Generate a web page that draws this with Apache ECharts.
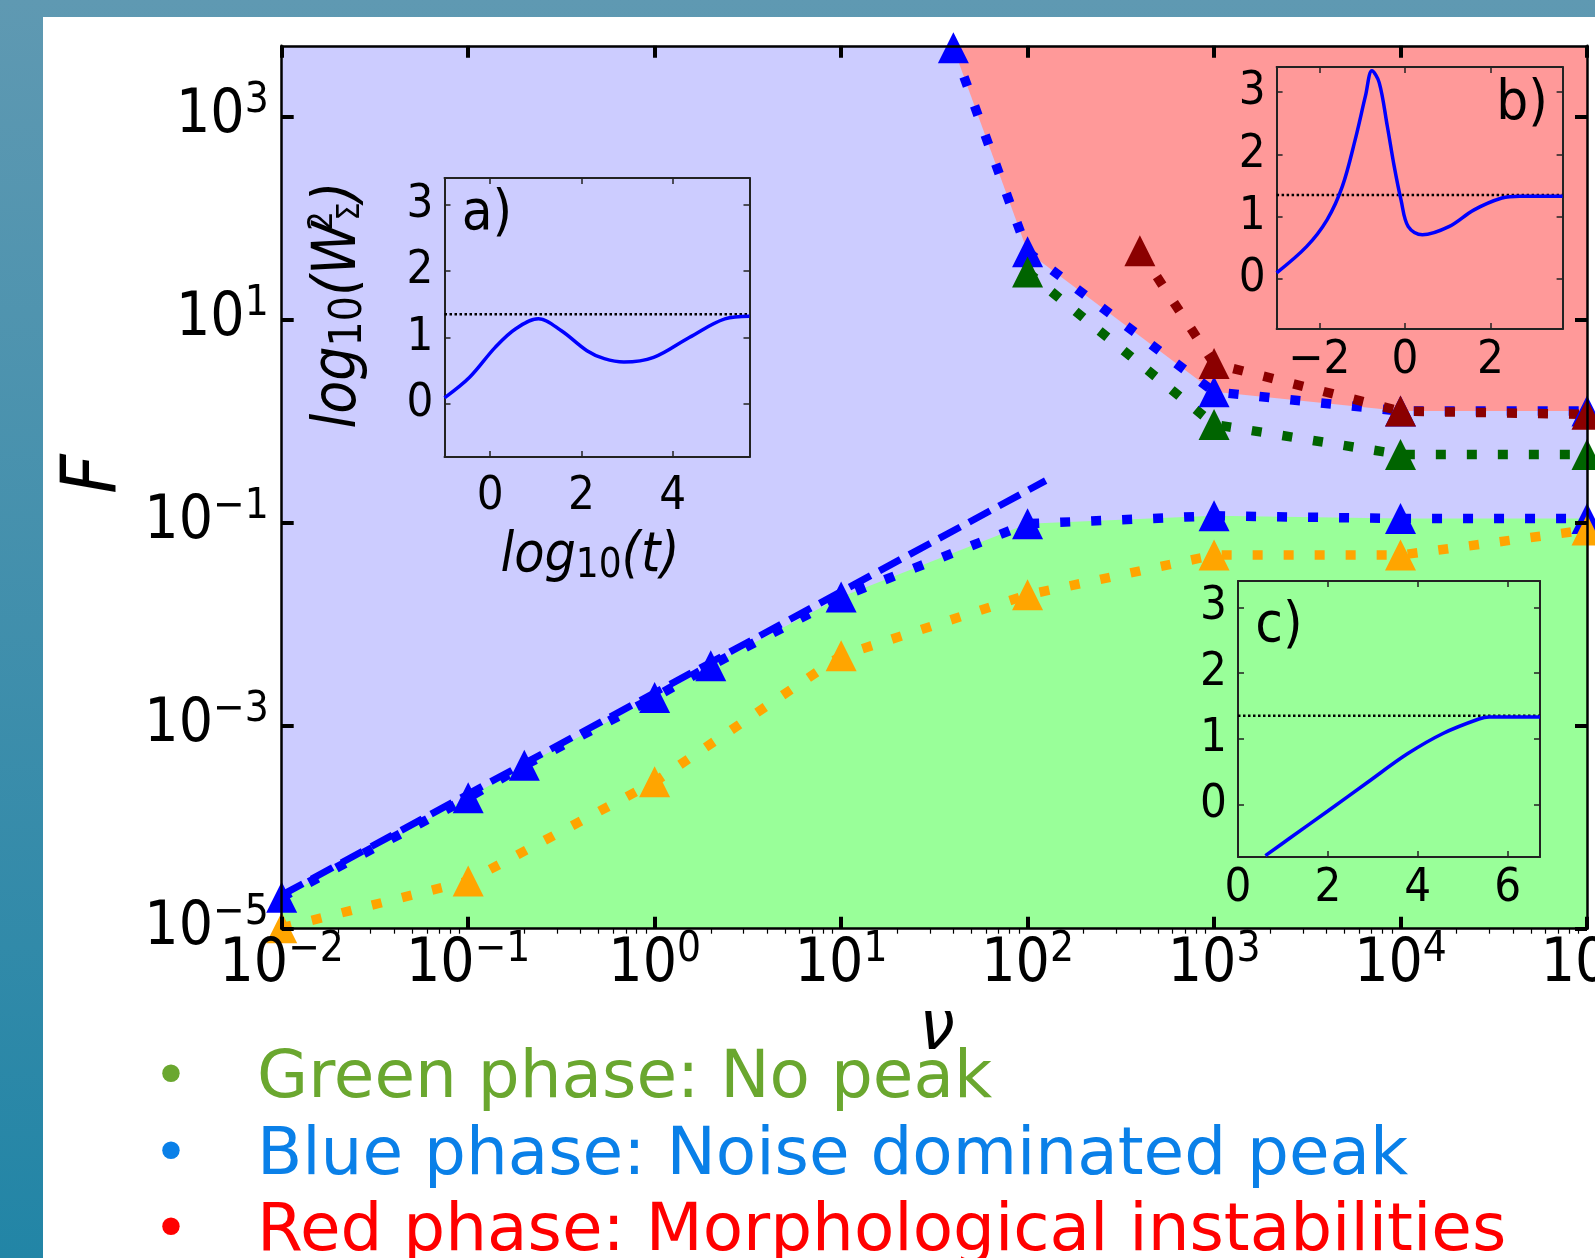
<!DOCTYPE html>
<html><head><meta charset="utf-8">
<script src="https://cdn.jsdelivr.net/npm/echarts@6/dist/echarts.min.js"></script>
<style>
html,body{margin:0;padding:0;width:1595px;height:1258px;overflow:hidden;background:linear-gradient(to bottom,#5f99b2,#2285a6);}
#panel{position:absolute;left:43px;top:17px;right:0;bottom:0;background:#fff;}
#chart{position:absolute;left:0;top:0;width:1595px;height:1258px;}
</style></head><body><div id="panel"></div><div id="chart"></div>
<script>
// ---------- main diagram data (nu, F) ----------
const nuLowerBlue = [0.01, 0.1, 0.2, 1, 2, 10, 100, 1000, 10000, 100000];
const fLowerBlue  = [2.04e-5, 1.95e-4, 4.07e-4, 1.9e-3, 3.9e-3, 1.86e-2, 9.8e-2, 0.117, 0.11, 0.11];
const nuOrange = [0.01, 0.1, 1, 10, 100, 1000, 10000, 100000];
const fOrange  = [1.02e-5, 2.95e-5, 2.8e-4, 4.9e-3, 1.95e-2, 4.8e-2, 4.8e-2, 8.5e-2];
const nuUpperBlue = [40, 100, 1000, 10000, 100000];
const fUpperBlue  = [4800, 46.8, 1.95, 1.26, 1.26];
const nuDarkRed = [400, 1000, 10000, 100000];
const fDarkRed  = [47.9, 3.7, 1.26, 1.17];
const nuDarkGreen = [100, 1000, 10000, 100000];
const fDarkGreen  = [29.5, 0.93, 0.47, 0.47];
const nuFit = [0.01, 125];
const fFit  = [2.14e-5, 0.26];
// tick exponents
const xTickExp = [-2, -1, 0, 1, 2, 3, 4, 5];
const yTickExp = [-5, -3, -1, 1, 3];

// ---------- insets: log10(t) vs log10(W^2) ----------
const insetA = [[-1.0,0.09],[-0.45,0.40],[0.11,0.85],[0.56,1.13],[1.06,1.28],[1.56,1.10],[2.12,0.80],[2.5,0.68],[2.93,0.63],[3.58,0.70],[4.36,1.0],[5.14,1.28],[5.68,1.32]];
const insetB = [[-3.0,0.10],[-2.3,0.52],[-1.82,0.95],[-1.46,1.49],[-1.16,2.24],[-0.92,2.94],[-0.77,3.34],[-0.60,3.15],[-0.41,2.45],[-0.25,1.81],[-0.09,1.27],[0.08,0.84],[0.41,0.71],[1.03,0.84],[1.62,1.11],[2.27,1.30],[2.69,1.33],[3.69,1.33]];
const insetC = [[0.61,-0.78],[1.18,-0.50],[2.0,-0.10],[2.87,0.33],[3.77,0.77],[4.56,1.08],[5.36,1.30],[5.59,1.33],[6.72,1.33]];
const saturationLevel = 1.35;
const insetXTicksA = [0, 2, 4];
const insetXTicksB = [-2, 0, 2];
const insetXTicksC = [0, 2, 4, 6];
const insetYTicks = [0, 1, 2, 3];

const FONT = "'DejaVu Sans Condensed','DejaVu Sans',sans-serif";
const minus = n => (n < 0 ? '\u2212' + Math.abs(n) : String(n));
const toLog = (xs, ys) => xs.map((x, i) => [Math.log10(x), Math.log10(ys[i])]);
const minorTicks = [];
for (let n = -2; n < 5; n++) for (let k = 2; k <= 9; k++) minorTicks.push(n + Math.log10(k));

const powRich = {
  b: {fontSize: 60, fontFamily: FONT, color: '#000'},
  s: {fontSize: 42, fontFamily: FONT, color: '#000', padding: [0, 0, 32, 0]}
};
const powFmt = v => '{b|10}{s|' + minus(Math.round(v)) + '}';

const chart = echarts.init(document.getElementById('chart'), null, {renderer: 'canvas'});

const mainGrid = {left: 281.7, top: 45.8, width: 1305.3, height: 882.9, show: true, backgroundColor: '#ccccff', borderWidth: 0, containLabel: false, outerBoundsMode: 'none'};
const insetGrids = [
  {left: 444.5, top: 178, width: 305, height: 279},
  {left: 1276.6, top: 67, width: 286, height: 262},
  {left: 1238, top: 581, width: 302, height: 276}
].map(g => Object.assign(g, {containLabel: false, outerBoundsMode: 'none'}));

const axLine = {show: true, onZero: false, lineStyle: {color: '#000', width: 2.5}};
const xAxes = [
  {gridIndex: 0, type: 'value', min: -2, max: 5, position: 'bottom', z: 10, axisLine: axLine,
   axisTick: {show: true, inside: true, length: 12, lineStyle: {color: '#000', width: 4}, customValues: xTickExp},
   axisLabel: {show: true, customValues: xTickExp, formatter: powFmt, rich: powRich, margin: 0}, splitLine: {show: false}},
  {gridIndex: 0, type: 'value', min: -2, max: 5, position: 'top', z: 10, axisLine: axLine,
   axisTick: {show: true, inside: true, length: 12, lineStyle: {color: '#000', width: 4}, customValues: xTickExp},
   axisLabel: {show: false}, splitLine: {show: false}},
  {gridIndex: 0, type: 'value', min: -2, max: 5, position: 'bottom', z: 10, axisLine: {show: false, onZero: false},
   axisTick: {show: true, inside: false, length: 5, lineStyle: {color: '#000', width: 1.2}, customValues: minorTicks},
   axisLabel: {show: false}, splitLine: {show: false}}
];
const yAxes = [
  {gridIndex: 0, type: 'value', min: -5, max: 3.7, position: 'left', z: 10, axisLine: axLine,
   axisTick: {show: true, inside: true, length: 12, lineStyle: {color: '#000', width: 4}, customValues: yTickExp},
   axisLabel: {show: true, customValues: yTickExp, formatter: powFmt, rich: powRich, margin: 13}, splitLine: {show: false}},
  {gridIndex: 0, type: 'value', min: -5, max: 3.7, position: 'right', z: 10, axisLine: axLine,
   axisTick: {show: true, inside: true, length: 12, lineStyle: {color: '#000', width: 4}, customValues: yTickExp},
   axisLabel: {show: false}, splitLine: {show: false}}
];

function addInsetAxes(gi, xr, yr, xt, xMargin) {
  const line = {show: true, onZero: false, lineStyle: {color: '#222', width: 2}};
  const tick = vals => ({show: true, inside: true, length: 6, lineStyle: {color: '#222', width: 1.5}, customValues: vals});
  const lab = {fontSize: 47, fontFamily: FONT, color: '#000'};
  xAxes.push({gridIndex: gi, type: 'value', min: xr[0], max: xr[1], position: 'bottom', z: 10, axisLine: line, axisTick: tick(xt),
    axisLabel: Object.assign({show: true, customValues: xt, formatter: minus, margin: xMargin}, lab), splitLine: {show: false}});
  xAxes.push({gridIndex: gi, type: 'value', min: xr[0], max: xr[1], position: 'top', z: 10, axisLine: line, axisTick: tick(xt),
    axisLabel: {show: false}, splitLine: {show: false}});
  yAxes.push({gridIndex: gi, type: 'value', min: yr[0], max: yr[1], position: 'left', z: 10, axisLine: line, axisTick: tick(insetYTicks),
    axisLabel: Object.assign({show: true, customValues: insetYTicks, formatter: minus, margin: 11}, lab), splitLine: {show: false}});
  yAxes.push({gridIndex: gi, type: 'value', min: yr[0], max: yr[1], position: 'right', z: 10, axisLine: line, axisTick: tick(insetYTicks),
    axisLabel: {show: false}, splitLine: {show: false}});
  return {x: xAxes.length - 2, y: yAxes.length - 2};
}
const axA = addInsetAxes(1, [-1.0, 5.68], [-0.8, 3.4], insetXTicksA, 16);
const axB = addInsetAxes(2, [-3.0, 3.69], [-0.8, 3.4], insetXTicksB, 8);
const axC = addInsetAxes(3, [0, 6.72], [-0.8, 3.4], insetXTicksC, 8);

const dotted = (color) => ({color, width: 9.5, type: [10, 21], cap: 'butt'});
const markerLine = (name, xs, ys, color) => ({
  name, type: 'line', xAxisIndex: 0, yAxisIndex: 0, data: toLog(xs, ys), z: 3,
  symbol: 'triangle', symbolSize: 31, itemStyle: {color}, lineStyle: dotted(color), silent: true
});

const series = [
  {name: 'green phase', type: 'line', xAxisIndex: 0, yAxisIndex: 0, data: toLog(nuLowerBlue, fLowerBlue), symbol: 'none',
   lineStyle: {width: 0, opacity: 0}, areaStyle: {color: '#99ff99', opacity: 1, origin: 'start'}, z: 1, silent: true},
  {name: 'red phase', type: 'line', xAxisIndex: 0, yAxisIndex: 0, data: toLog(nuUpperBlue, fUpperBlue), symbol: 'none',
   lineStyle: {width: 0, opacity: 0}, areaStyle: {color: '#ff9999', opacity: 1, origin: 'end'}, z: 1, silent: true},
  {name: 'fit', type: 'line', xAxisIndex: 0, yAxisIndex: 0, data: toLog(nuFit, fFit), symbol: 'none', z: 3,
   lineStyle: {color: '#0000ff', width: 7, type: [24, 10], cap: 'butt'}, silent: true},
  markerLine('lower blue', nuLowerBlue, fLowerBlue, '#0000ff'),
  markerLine('orange', nuOrange, fOrange, '#ffa500'),
  markerLine('upper blue', nuUpperBlue, fUpperBlue, '#0000ff'),
  markerLine('dark red', nuDarkRed, fDarkRed, '#8b0000'),
  markerLine('dark green', nuDarkGreen, fDarkGreen, '#006400')
];
function insetSeries(ax, data, xr) {
  series.push({type: 'line', xAxisIndex: ax.x, yAxisIndex: ax.y, data: [[xr[0], saturationLevel], [xr[1], saturationLevel]],
    symbol: 'none', z: 11, lineStyle: {color: '#000', width: 2.5, type: [2.5, 2.5]}, silent: true});
  series.push({type: 'line', xAxisIndex: ax.x, yAxisIndex: ax.y, data, symbol: 'none', smooth: 0.35, z: 12,
    lineStyle: {color: '#0000ff', width: 3.5}, silent: true});
}
insetSeries(axA, insetA, [-1.0, 5.68]);
insetSeries(axB, insetB, [-3.0, 3.69]);
insetSeries(axC, insetC, [0, 6.72]);

const txt = (x, y, text, size, opts) => ({type: 'text', x, y, z: 100, silent: true, rotation: (opts && opts.rot) || 0,
  style: Object.assign({text, fontSize: size, fontFamily: FONT, fill: '#000', align: 'center', verticalAlign: 'middle'}, (opts && opts.style) || {})});
const BFONT = "'DejaVu Sans',sans-serif";
const bullets = [
  {text: 'Green phase: No peak', color: '#6aa72f', y: 1080},
  {text: 'Blue phase: Noise dominated peak', color: '#0a80e8', y: 1157},
  {text: 'Red phase: Morphological instabilities', color: '#ff0000', y: 1233}
];
const graphic = [
  txt(96, 474, 'F', 76, {rot: Math.PI / 2, style: {fontStyle: 'italic'}}),
  txt(937, 1031, '\u03bd', 70, {style: {fontStyle: 'italic'}}),
  txt(487, 214, 'a)', 56),
  txt(1522, 104, 'b)', 56),
  txt(1279, 626, 'c)', 56),
  {type: 'text', x: 590, y: 557, z: 100, silent: true, style: {text: '{i|log}{d|10}{i|(t)}', align: 'center', verticalAlign: 'middle', fill: '#000',
    rich: {i: {fontSize: 55, fontFamily: FONT, fontStyle: 'italic', fill: '#000'}, d: {fontSize: 40, fontFamily: FONT, fill: '#000', padding: [20, 0, 0, 0]}}}},
  {type: 'text', x: 339, y: 305, z: 100, silent: true, rotation: Math.PI / 2, style: {text: '{i|log}{d|10}{i|(W}{u|2}{d2|\u03a3}{i|)}', align: 'center', verticalAlign: 'middle', fill: '#000',
    rich: {i: {fontSize: 60, fontFamily: FONT, fontStyle: 'italic', fill: '#000'},
           d: {fontSize: 44, fontFamily: FONT, fill: '#000', padding: [22, 0, 0, 0]},
           u: {fontSize: 34, fontFamily: FONT, fill: '#000', padding: [0, 0, 32, 0], width: 1},
           d2: {fontSize: 32, fontFamily: FONT, fill: '#000', padding: [24, 0, 0, 0]}}}}
];
bullets.forEach(b => {
  graphic.push({type: 'text', x: 171, y: b.y, z: 100, silent: true, style: {text: '\u2022', fontSize: 60, fontFamily: BFONT, fill: b.color, align: 'center', verticalAlign: 'middle'}});
  graphic.push({type: 'text', x: 257, y: b.y, z: 100, silent: true, style: {text: b.text, fontSize: 66, fontFamily: BFONT, fill: b.color, align: 'left', verticalAlign: 'middle'}});
});

chart.setOption({
  animation: false,
  backgroundColor: 'transparent',
  grid: [mainGrid].concat(insetGrids),
  xAxis: xAxes,
  yAxis: yAxes,
  series,
  graphic
});
</script></body></html>
